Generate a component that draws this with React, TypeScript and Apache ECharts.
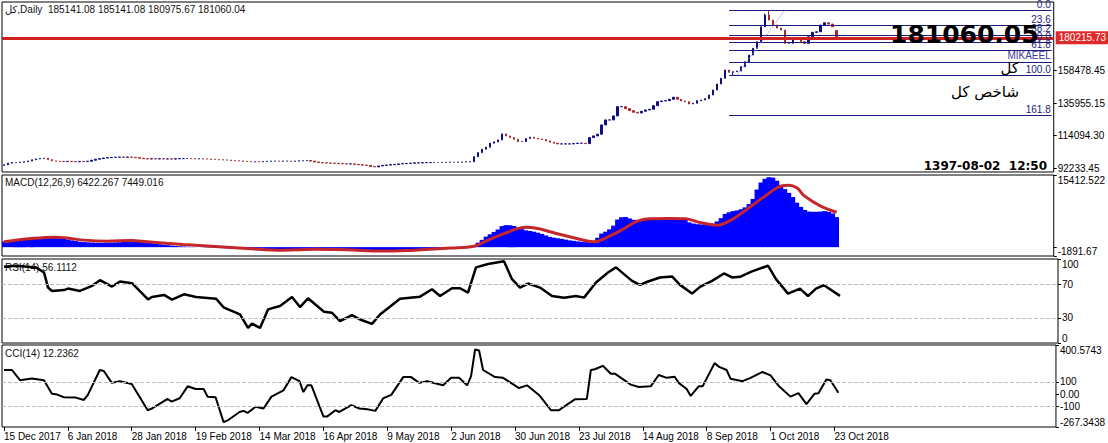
import React, { useEffect, useRef } from 'react';
import * as echarts from 'echarts';

const FONT = '"Liberation Sans", "DejaVu Sans", sans-serif';

// bottom axis labels, one every 16 bars
const tickLabels = [
  '15 Dec 2017', '6 Jan 2018', '28 Jan 2018', '19 Feb 2018', '14 Mar 2018',
  '16 Apr 2018', '9 May 2018', '2 Jun 2018', '30 Jun 2018', '23 Jul 2018',
  '14 Aug 2018', '8 Sep 2018', '1 Oct 2018', '23 Oct 2018',
];
const barsPerLabel = 16;
const slotCount = 264; // bars + empty space on the right

// daily closes of the index
const closes = [
  94400, 95500, 95900, 95900, 96200, 96500, 97000, 97800, 98400, 98700,
  98900, 97900, 97050, 96800, 96700, 96600, 96700, 96600, 96500, 96700,
  96600, 96800, 97500, 98200, 98600, 99000, 99300, 99400, 99500, 99600,
  99500, 99600, 99500, 99200, 98800, 98500, 98400, 98500, 98400, 98500,
  98400, 98400, 98300, 98500, 98600, 98600, 98600, 98500, 98400, 98500,
  98400, 98300, 98100, 97900, 97800, 97700, 97600, 97300, 97100, 97000,
  96800, 96600, 96400, 96500, 96400, 96600, 96800, 96900, 96900, 96800,
  96900, 96900, 96800, 96900, 97100, 97200, 97300, 96900, 96300, 95900,
  95700, 95600, 95500, 95400, 95200, 95100, 95000, 95000, 94700, 94400,
  94200, 94000, 93300, 93000, 93600, 94000, 94200, 94500, 94700, 95000,
  95200, 95300, 95500, 95700, 95700, 95800, 95900, 95900, 96000, 95900,
  96000, 96100, 96200, 96100, 96200, 96300, 96400, 96500, 99900, 102650,
  104950, 106300, 109000, 109900, 111200, 115300, 113900, 112780, 111700, 110100,
  110100, 112100, 113050, 112400, 111900, 111450, 110550, 109700, 109000, 108530,
  108530, 108530, 108530, 108750, 109000, 109000, 108750, 112780, 113930, 115080,
  121350, 124730, 124730, 127430, 133700, 133700, 132350, 131000, 129920, 129450,
  130600, 131480, 131950, 134380, 137080, 137550, 137760, 138700, 140050, 138700,
  137550, 137080, 135530, 136000, 137760, 138230, 139100, 141600, 144980, 149030,
  152870, 158480, 156930, 157330, 157800, 160700, 164080, 168600, 173130, 177580,
  187700, 195600, 192230, 188850, 186830, 185480, 176500, 176500, 179870, 179870,
  177580, 176500, 180960, 183930, 184330, 188850, 190410, 189530, 187700, 181060.04,
];
const firstOpen = 94000;
const lastOpen = 185141.08;
const highOverrides: Record<number, number> = { 191: 196600, 192: 199000, 209: 185141.08 };
const lowOverrides: Record<number, number> = { 183: 155100, 209: 180975.67 };

// MACD histogram (main line) per bar
const macdHist = [
  1200, 1280, 1380, 1480, 1580, 1700, 1820, 1960, 2040, 2100,
  2130, 2150, 2200, 2210, 2050, 1850, 1640, 1450, 1300, 1150,
  1080, 1030, 980, 950, 930, 920, 940, 970, 1000, 1040,
  1100, 1180, 1280, 1230, 1150, 1080, 1000, 870, 750, 630,
  520, 430, 330, 240, 180, 140, 100, 60, 30, 0,
  -30, -60, -100, -140, -170, -200, -230, -260, -280, -300,
  -350, -400, -450, -500, -540, -570, -610, -650, -690, -710,
  -700, -670, -630, -590, -570, -550, -530, -510, -500, -470,
  -440, -410, -370, -420, -480, -530, -570, -640, -700, -770,
  -830, -850, -860, -860, -850, -840, -830, -810, -790, -770,
  -720, -670, -610, -560, -500, -440, -370, -310, -260, -220,
  -180, -150, -130, -110, -90, -60, -30, 10, 450, 950,
  1550, 2250, 2750, 3250, 3770, 4500, 4700, 4700, 4520, 4150,
  3850, 3580, 3450, 3300, 3080, 2830, 2500, 2200, 2020, 1880,
  1760, 1600, 1450, 1340, 1230, 1130, 1070, 1010, 1300, 2000,
  2900, 3300, 3800, 4600, 5900, 6400, 6450, 6150, 5850, 5700,
  5800, 5950, 6100, 6150, 6200, 6230, 6250, 6270, 6250, 6150,
  6000, 5800, 5300, 5050, 4900, 4850, 4840, 4850, 5000, 5500,
  6200, 7100, 7450, 7700, 7850, 8100, 8500, 9200, 10300, 12300,
  13800, 14600, 14950, 14850, 14200, 13300, 12400, 11600, 10700, 9500,
  8600, 7950, 7600, 7550, 7550, 7600, 7690, 7550, 7200, 6422.267,
];

// [bar index, value]
const macdSignal = [
  [0, 1140], [7, 1850], [13, 2140], [20, 1500], [26, 1280], [32, 1420], [36, 1140],
  [45, 570], [53, 140], [61, -280], [70, -640], [78, -430], [86, -570], [95, -850],
  [103, -640], [109, -350], [112, -200], [118, 210], [121, 1280], [126, 3060],
  [131, 4270], [134, 3990], [138, 3060], [144, 1780], [148, 1140], [152, 2350],
  [156, 4130], [159, 5550], [162, 6050], [167, 6120], [171, 6050], [175, 5200],
  [179, 4700], [183, 6050], [187, 8400], [191, 10890], [195, 13030], [197, 13240],
  [199, 12670], [201, 10890], [205, 8760], [209, 7449.016],
];

const rsi = [
  [0, 90.8], [3, 92], [8, 90], [10, 84], [11, 66], [12, 62], [15, 63], [16, 64.8],
  [19, 62], [22, 68], [24, 74.8], [27, 67.2], [29, 73.2], [32, 71.2], [36, 52],
  [37, 54.8], [40, 57.2], [42, 51.6], [45, 58], [48, 54.8], [53, 52.8], [55, 42],
  [59, 34], [61, 18], [62, 23], [64, 18], [66, 40], [69, 44], [72, 54.8], [74, 42.8],
  [76, 53.2], [80, 37.2], [82, 36], [84, 26], [87, 33.2], [89, 28], [92, 22.8],
  [94, 34], [99, 52.8], [104, 55.2], [107, 64], [109, 56], [112, 65.2], [114, 65.2],
  [116, 60], [118, 90], [121, 94], [125, 97.2], [127, 76], [129, 66], [131, 70.8],
  [134, 66], [137, 56], [140, 54], [143, 56], [145, 54], [148, 72], [151, 84],
  [153, 90], [157, 74], [159, 69.2], [161, 73.2], [164, 78], [167, 79.2], [169, 69.2],
  [172, 58.8], [174, 66.8], [177, 74], [180, 82.8], [182, 78], [184, 78.8], [187, 85.2],
  [191, 92], [193, 76], [196, 58.8], [199, 64.8], [201, 56], [203, 64.8], [205, 68.8],
  [209, 56.1112],
];

const cci = [
  [0, 197], [2, 197], [4, 114], [7, 128], [10, 114], [12, 3], [13, 0], [15, -25],
  [18, -28], [20, -47], [21, -6], [24, 197], [25, 189], [27, 92], [29, 106], [32, 83],
  [36, -131], [37, -117], [41, -39], [42, -61], [44, -33], [46, 64], [48, 42], [50, 42],
  [51, -20], [53, -25], [55, -228], [56, -214], [59, -145], [60, -136], [61, -153],
  [63, -103], [65, -117], [67, -20], [70, 31], [72, 139], [74, 106], [75, 17], [76, 72],
  [77, 72], [80, -181], [81, -181], [83, -131], [84, -145], [87, -89], [89, -117],
  [91, -122], [93, -136], [95, -33], [97, -6], [100, 139], [102, 139], [104, 92],
  [106, 106], [110, 72], [112, 133], [114, 133], [116, 72], [117, 147], [118, 364],
  [119, 356], [120, 197], [123, 139], [125, 133], [129, 50], [131, 72], [134, -6],
  [135, -47], [137, -131], [139, -131], [140, -108], [143, -42], [146, -39], [147, 197],
  [148, 203], [150, 231], [152, 167], [153, 167], [157, 78], [159, 58], [162, 64],
  [164, 156], [166, 133], [168, 142], [169, 92], [171, 42], [172, -14], [174, 64],
  [175, 64], [178, 253], [179, 225], [181, 197], [182, 125], [185, 106], [187, 133],
  [190, 181], [192, 153], [194, 69], [197, -20], [199, 8], [201, -81], [203, 3],
  [204, 8], [206, 119], [207, 114], [209, 12.2362],
];

// right-hand scale labels
const mainTicks = [92233.45, 114094.3, 135955.15, 158478.45];
const macdTicks = [15412.522, 0, -1891.67];
const macdLabelTicks = [15412.522, -1891.67];
const macdTickText = ['15412.522', '-1891.67'];
const macdZeroText = '0.00';
const rsiTicks = [100, 70, 30, 0];
const cciTicks = [400.5743, 100, 0, -100, -267.3438];
const cciTickText = ['400.5743', '100', '0.00', '-100', '-267.3438'];

// fibonacci retracement drawn on the chart
const fibLevels = [0, 23.6, 38.2, 50, 61.8, 100, 161.8];
const fibLevelText = ['0.0', '23.6', '38.2', '50.0', '61.8', '100.0', '161.8'];
const fibHigh = 199000;
const fibLow = 155100;
const fibStartBar = 182;
const fibTrendBars = [184, 196];
const mikaeelPrice = 163900;
const redLinePrice = 180215.73;

const NAVY = '#1b1b7c';
const RED = '#d0201f';
const UP = '#0e0e80';
const DOWN = '#a8282c';

const App: React.FC = () => {
  const chartRef = useRef<HTMLDivElement>(null);

  useEffect(() => {
    if (!chartRef.current) return;
    const chart = echarts.init(chartRef.current, undefined, { renderer: 'svg' });

    const categories = Array.from({ length: slotCount }, (_, i) => String(i));
    const lastSlot = String(slotCount - 1);
    const isLabelSlot = (idx: number) => idx % barsPerLabel === 0 && idx / barsPerLabel < tickLabels.length;

    const candles = closes.map((c, i) => {
      const o = i === 0 ? firstOpen : i === closes.length - 1 ? lastOpen : closes[i - 1];
      const hi = highOverrides[i] ?? Math.max(o, c);
      const lo = lowOverrides[i] ?? Math.min(o, c);
      return [o, c, lo, hi];
    });

    const fibLines: any[] = fibLevels.map((lvl, k) => {
      const p = fibHigh - (lvl / 100) * (fibHigh - fibLow);
      return [
        { coord: [String(fibStartBar), p], label: { formatter: fibLevelText[k] } },
        { coord: [lastSlot, p] },
      ];
    });
    fibLines.push([
      { coord: [String(fibStartBar), mikaeelPrice], label: { formatter: 'MIKAEEL', color: '#3a3aa0' } },
      { coord: [lastSlot, mikaeelPrice] },
    ]);
    fibLines.push([
      {
        coord: [String(fibTrendBars[0]), fibLow],
        lineStyle: { type: 'dotted', color: '#8a8ac8', width: 1 },
        label: { show: false },
      },
      { coord: [String(fibTrendBars[1]), fibHigh] },
    ]);

    const gridBox = { left: 2, width: 1056, show: true, borderColor: '#000', borderWidth: 1, backgroundColor: '#fff' };
    const grids = [
      { ...gridBox, top: 2, height: 170 },
      { ...gridBox, top: 175, height: 81 },
      { ...gridBox, top: 259, height: 84 },
      { ...gridBox, top: 345, height: 82 },
    ];

    const xAxes = grids.map((_, gi) => ({
      type: 'category',
      gridIndex: gi,
      data: categories,
      boundaryGap: true,
      position: 'bottom',
      axisLine: { show: false, onZero: false },
      axisTick: {
        show: gi === 3,
        alignWithLabel: true,
        length: 4,
        lineStyle: { color: '#000' },
        interval: isLabelSlot,
      },
      axisLabel: {
        show: gi === 3,
        align: 'left',
        margin: 4,
        fontSize: 10,
        fontFamily: FONT,
        color: '#000',
        interval: isLabelSlot,
        formatter: (_v: string, idx: number) => tickLabels[idx / barsPerLabel] ?? '',
      },
      splitLine: { show: false },
    }));

    const yAxis = (
      gi: number,
      min: number,
      max: number,
      ticks: number[],
      labels: number[],
      fmt: (v: number) => string,
    ) => ({
      type: 'value',
      gridIndex: gi,
      position: 'right',
      min,
      max,
      scale: true,
      axisLine: { show: false },
      splitLine: { show: false },
      axisTick: { show: true, length: 3, customValues: ticks, lineStyle: { color: '#000' } },
      axisLabel: {
        customValues: labels,
        formatter: fmt,
        fontSize: 10,
        fontFamily: FONT,
        color: '#000',
        margin: 4,
        hideOverlap: false,
        showMinLabel: true,
        showMaxLabel: true,
        verticalAlignMaxLabel: gi === 0 ? undefined : 'bottom',
        verticalAlignMinLabel: gi === 0 ? undefined : 'top',
      },
    });

    const lookup = (vals: number[], txt: string[]) => (v: number) => {
      const k = vals.findIndex((t) => Math.abs(t - v) < 1e-6);
      return k >= 0 ? txt[k] : String(v);
    };

    const headerStyle = { fontSize: 10, fontWeight: 'normal', color: '#111', fontFamily: FONT };

    const option: any = {
      animation: false,
      backgroundColor: '#fff',
      title: [
        { text: 'کل,Daily  185141.08 185141.08 180975.67 181060.04', left: 5, top: 4, padding: 0, textStyle: headerStyle },
        { text: 'MACD(12,26,9) 6422.267 7449.016', left: 5, top: 177, padding: 0, textStyle: headerStyle },
        { text: 'RSI(14) 56.1112', left: 5, top: 262, padding: 0, z: 0, textStyle: headerStyle },
        { text: 'CCI(14) 12.2362', left: 5, top: 348, padding: 0, textStyle: headerStyle },
      ],
      grid: grids,
      xAxis: xAxes,
      yAxis: [
        yAxis(0, 89530, 204450, mainTicks, mainTicks, (v) => v.toFixed(2)),
        yAxis(1, -1891.67, 15412.522, macdTicks, macdLabelTicks, lookup(macdLabelTicks, macdTickText)),
        yAxis(2, 0, 100, rsiTicks, rsiTicks, (v) => String(v)),
        yAxis(3, -267.3438, 400.5743, cciTicks, cciTicks, lookup(cciTicks, cciTickText)),
      ],
      series: [
        {
          name: 'price',
          type: 'candlestick',
          xAxisIndex: 0,
          yAxisIndex: 0,
          data: candles,
          barWidth: 2,
          itemStyle: { color: UP, color0: DOWN, borderColor: UP, borderColor0: DOWN, borderWidth: 1 },
          markLine: {
            silent: true,
            symbol: ['none', 'none'],
            animation: false,
            precision: 2,
            lineStyle: { color: NAVY, width: 1, type: 'solid' },
            label: {
              show: true,
              position: 'insideEndTop',
              distance: [1, 1],
              color: NAVY,
              fontSize: 10,
              fontFamily: FONT,
            },
            data: [
              ...fibLines,
              {
                yAxis: redLinePrice,
                lineStyle: { color: RED, width: 3, type: 'solid' },
                label: {
                  position: 'end',
                  formatter: '180215.73',
                  color: '#fff',
                  backgroundColor: '#e02a2a',
                  padding: [2, 3, 1, 3],
                  distance: 2,
                  fontSize: 10,
                },
              },
            ],
          },
        },
        {
          name: 'macd',
          type: 'bar',
          xAxisIndex: 1,
          yAxisIndex: 1,
          data: macdHist,
          barWidth: 4.8,
          barCategoryGap: '0%',
          itemStyle: { color: '#0000ff' },
          markLine: {
            silent: true,
            symbol: ['none', 'none'],
            lineStyle: { opacity: 0 },
            label: {
              show: true,
              position: 'end',
              distance: 6,
              formatter: macdZeroText,
              color: '#000',
              fontSize: 10,
              fontFamily: FONT,
            },
            data: [{ yAxis: 0 }],
          },
        },
        {
          name: 'signal',
          type: 'line',
          xAxisIndex: 1,
          yAxisIndex: 1,
          data: macdSignal,
          smooth: 0.4,
          showSymbol: false,
          lineStyle: { color: '#c4262c', width: 3 },
        },
        {
          name: 'rsi',
          type: 'line',
          xAxisIndex: 2,
          yAxisIndex: 2,
          data: rsi,
          showSymbol: false,
          lineStyle: { color: '#000', width: 2.5 },
          markLine: {
            silent: true,
            symbol: ['none', 'none'],
            label: { show: false },
            lineStyle: { color: '#bdbdbd', width: 1, type: 'dashed' },
            data: [{ yAxis: 70 }, { yAxis: 30 }],
          },
        },
        {
          name: 'cci',
          type: 'line',
          xAxisIndex: 3,
          yAxisIndex: 3,
          data: cci,
          showSymbol: false,
          lineStyle: { color: '#000', width: 2 },
          markLine: {
            silent: true,
            symbol: ['none', 'none'],
            label: { show: false },
            lineStyle: { color: '#bdbdbd', width: 1, type: 'dashed' },
            data: [{ yAxis: 100 }, { yAxis: -100 }],
          },
        },
      ],
      graphic: [
        {
          type: 'text',
          x: 890,
          y: 34,
          z: 100,
          style: { text: '181060.05', font: 'bold 25px "DejaVu Sans"', fill: '#000', align: 'left', verticalAlign: 'middle' },
        },
        {
          type: 'text',
          x: 1019,
          y: 68,
          z: 100,
          style: { text: 'کل', font: '15px "DejaVu Sans"', fill: '#000', align: 'right', verticalAlign: 'middle' },
        },
        {
          type: 'text',
          x: 1019,
          y: 92,
          z: 100,
          style: { text: 'شاخص کل', font: '15px "DejaVu Sans"', fill: '#000', align: 'right', verticalAlign: 'middle' },
        },
        {
          type: 'text',
          x: 1047,
          y: 166,
          z: 100,
          style: { text: '1397-08-02  12:50', font: 'bold 12px "DejaVu Sans"', fill: '#000', align: 'right', verticalAlign: 'middle' },
        },
      ],
    };

    chart.setOption(option);

    return () => {
      chart.dispose();
    };
  }, []);

  return (
    <div
      ref={chartRef}
      style={{ position: 'fixed', left: 0, top: 0, width: 1108, height: 443, background: '#fff' }}
    />
  );
};

export default App;
